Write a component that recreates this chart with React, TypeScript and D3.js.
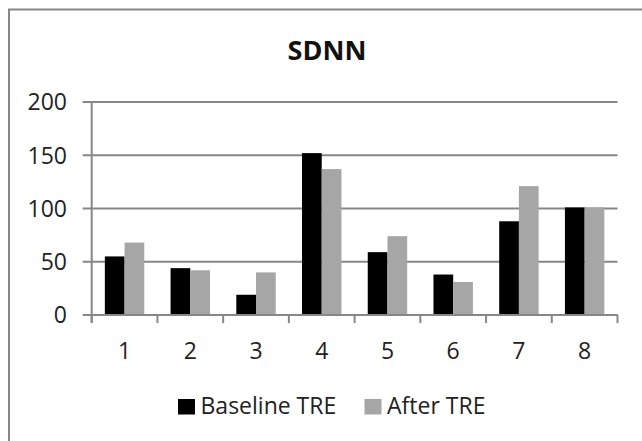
import React, { useRef, useEffect } from "react";
import * as d3 from "d3";

const categories = ["1", "2", "3", "4", "5", "6", "7", "8"];
const seriesNames = ["Baseline TRE", "After TRE"];
const baseline = [55, 44, 19, 152, 59, 38, 88, 101];
const afterTre = [68, 42, 40, 137, 74, 31, 121, 101];
const yTicks = [0, 50, 100, 150, 200];
const title = "SDNN";

const colors = ["#000000", "#a6a6a6"];
const gridColor = "#878787";
const font = "'Open Sans', Calibri, sans-serif";

const App = () => {
  const canvas = useRef<HTMLDivElement>(null);

  const width = 642;
  const height = 441;
  const plot = { left: 91.7, right: 617.5, top: 102, bottom: 315 };

  const drawChart = () => {
    d3.select(canvas.current).selectAll("*").remove();

    const svg = d3.select(canvas.current)
      .append("svg")
      .attr("width", width)
      .attr("height", height)
      .style("position", "absolute")
      .style("left", 0)
      .style("top", 0)
      .style("font-family", font);

    svg.append("rect")
      .attr("width", width)
      .attr("height", height)
      .attr("fill", "#fff");

    // chart frame, right and bottom edges fall outside the picture
    svg.append("rect")
      .attr("x", 9)
      .attr("y", 9.5)
      .attr("width", 700)
      .attr("height", 500)
      .attr("fill", "none")
      .attr("stroke", gridColor)
      .attr("stroke-width", 2);

    const x0 = d3.scaleBand()
      .domain(categories)
      .range([plot.left, plot.right])
      .padding(0);

    const x1 = d3.scaleBand()
      .domain(seriesNames)
      .range([0, x0.bandwidth()])
      .paddingInner(0)
      .paddingOuter(0.667);

    const y = d3.scaleLinear()
      .domain([0, 200])
      .range([plot.bottom, plot.top]);

    // gridlines + y ticks
    svg.append("g")
      .selectAll("line")
      .data(yTicks)
      .enter()
      .append("line")
      .attr("x1", plot.left - 9)
      .attr("x2", plot.right)
      .attr("y1", d => y(d))
      .attr("y2", d => y(d))
      .attr("stroke", gridColor)
      .attr("stroke-width", 2);

    svg.append("g")
      .selectAll("text")
      .data(yTicks)
      .enter()
      .append("text")
      .attr("x", 67)
      .attr("y", d => y(d))
      .attr("dy", "0.36em")
      .attr("text-anchor", "end")
      .attr("font-size", 23)
      .attr("fill", "#222")
      .text(d => d);

    // bars
    const rows = categories.map((c, i) => ({ cat: c, vals: [baseline[i], afterTre[i]] }));
    const groups = svg.append("g")
      .selectAll("g")
      .data(rows)
      .enter()
      .append("g")
      .attr("transform", d => "translate(" + x0(d.cat) + ",0)");

    groups.selectAll("rect")
      .data(d => d.vals.map((v, j) => ({ name: seriesNames[j], v: v, j: j })))
      .enter()
      .append("rect")
      .attr("x", d => x1(d.name) as number)
      .attr("y", d => y(d.v))
      .attr("width", x1.bandwidth())
      .attr("height", d => y(0) - y(d.v))
      .attr("fill", d => colors[d.j]);

    // y axis line
    svg.append("line")
      .attr("x1", plot.left)
      .attr("x2", plot.left)
      .attr("y1", plot.top)
      .attr("y2", plot.bottom + 8)
      .attr("stroke", gridColor)
      .attr("stroke-width", 2);

    // x axis line + ticks between categories
    svg.append("line")
      .attr("x1", plot.left)
      .attr("x2", plot.right)
      .attr("y1", plot.bottom)
      .attr("y2", plot.bottom)
      .attr("stroke", gridColor)
      .attr("stroke-width", 2);

    const tickXs = categories.map(c => x0(c) as number).concat([plot.right]);
    svg.append("g")
      .selectAll("line")
      .data(tickXs)
      .enter()
      .append("line")
      .attr("x1", d => d)
      .attr("x2", d => d)
      .attr("y1", plot.bottom)
      .attr("y2", plot.bottom + 8)
      .attr("stroke", gridColor)
      .attr("stroke-width", 2);

    svg.append("g")
      .selectAll("text")
      .data(categories)
      .enter()
      .append("text")
      .attr("x", d => (x0(d) as number) + x0.bandwidth() / 2)
      .attr("y", 359)
      .attr("text-anchor", "middle")
      .attr("font-size", 23)
      .attr("fill", "#222")
      .text(d => d);

    // title
    svg.append("text")
      .attr("x", 327)
      .attr("y", 59.5)
      .attr("text-anchor", "middle")
      .attr("font-size", 27)
      .attr("font-weight", "bold")
      .attr("fill", "#111")
      .text(title);

    // legend
    const legendX = [178, 364.5];
    const legend = svg.append("g")
      .selectAll("g")
      .data(seriesNames)
      .enter()
      .append("g")
      .attr("transform", (d, i) => "translate(" + legendX[i] + ",0)");

    legend.append("rect")
      .attr("x", 0)
      .attr("y", 399)
      .attr("width", 17)
      .attr("height", 15.5)
      .attr("fill", (d, i) => colors[i]);

    legend.append("text")
      .attr("x", 22.5)
      .attr("y", 413.7)
      .attr("font-size", 23)
      .attr("fill", "#222")
      .text(d => d);
  };

  useEffect(() => {
    drawChart();
  });

  return (
    <div ref={canvas}></div>
  );
};

export default App;
